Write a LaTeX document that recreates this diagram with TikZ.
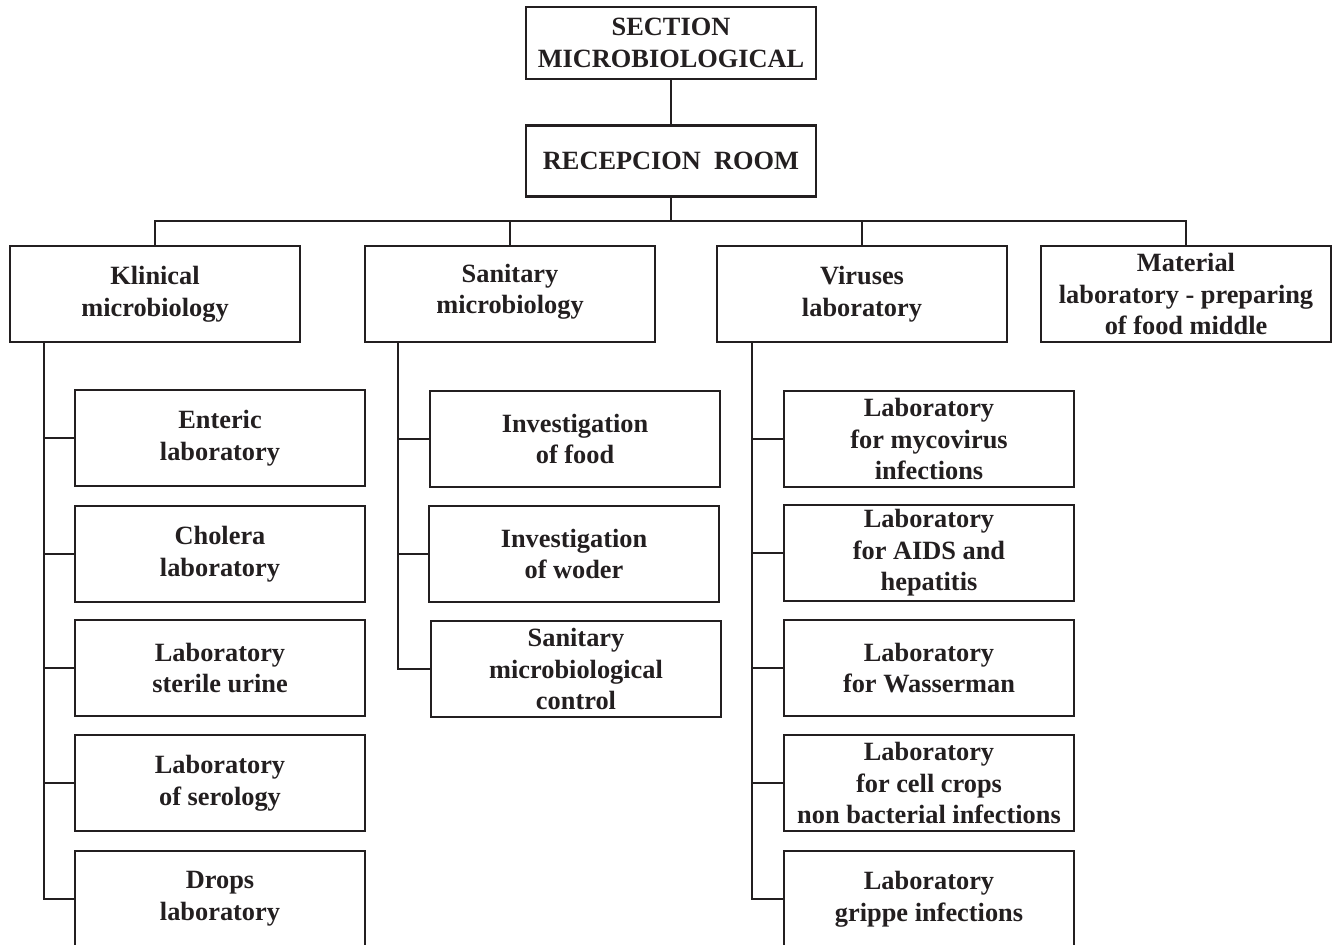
\documentclass[tikz,border=0pt]{standalone}
\usepackage{fontspec}
\setmainfont{Liberation Serif}
\usetikzlibrary{positioning}
\definecolor{ink}{RGB}{35,31,32}

\tikzset{
    unit/.style={draw=ink, line width=1.2pt, minimum width=290*0.02cm, minimum height=96*0.02cm,
        inner sep=2pt, align=center, text=ink, font=\fontsize{15}{18}\selectfont\bfseries},
    link/.style={draw=ink, line width=0.6pt}
}

\begin{document}
\begin{tikzpicture}[x=0.02cm,y=-0.02cm]
    % Frame of the page (the lowest boxes run off it)
    \useasboundingbox (0,0) rectangle (1337,945);
    \clip (0,0) rectangle (1337,945);

    % Head of the section:
    \node [unit, minimum height=72*0.02cm] (section) at (671,43) {SECTION\\MICROBIOLOGICAL};
    \node [unit, minimum height=71*0.02cm] (recep) at (671,161) {RECEPCION\ \ ROOM};

    % Departments:
    \node [unit] (klinical) at (155,294) {Klinical\\microbiology};
    \node [unit, text depth=6pt] (sanitary) at (510,294) {Sanitary\\microbiology};
    \node [unit] (viruses)  at (862,294) {Viruses\\laboratory};
    \node [unit] (material) at (1186,294) {Material\\laboratory - preparing\\of food middle};

    % Laboratories of clinical microbiology:
    \node [unit] (enteric)  at (220,438) {Enteric\\laboratory};
    \node [unit] (cholera)  at (220,554) {Cholera\\laboratory};
    \node [unit] (urine)    at (220,668) {Laboratory\\sterile urine};
    \node [unit] (serology) at (220,783) {Laboratory\\of serology};
    \node [unit] (drops)    at (220,899) {Drops\\laboratory};

    % Laboratories of sanitary microbiology:
    \node [unit] (food)    at (575,439) {Investigation\\of food};
    \node [unit] (woder)   at (574,554) {Investigation\\of woder};
    \node [unit] (control) at (576,669) {Sanitary\\microbiological\\control};

    % Laboratories of virology:
    \node [unit] (mycovirus) at (929,439) {Laboratory\\for mycovirus\\infections};
    \node [unit] (aids)      at (929,553) {Laboratory\\for AIDS and\\hepatitis};
    \node [unit] (wasserman) at (929,668) {Laboratory\\for Wasserman};
    \node [unit] (cellcrops) at (929,783) {Laboratory\\for cell crops\\non bacterial infections};
    \node [unit] (grippe)    at (929,899) {Laboratory\\grippe infections};

    % Connectors:
    \coordinate (bus) at (671,221);
    \draw [link] (section) -- (recep);
    \draw [link] (recep) -- (bus);
    \foreach \n in {klinical,sanitary,viruses,material}
        \draw [link] (\n.north) -- (\n.north |- bus) -- (bus);

    % Side spines to the laboratories:
    \coordinate (kspine) at (44,342);
    \coordinate (sspine) at (398,342);
    \coordinate (vspine) at (752,342);
    \foreach \c in {enteric,cholera,urine,serology,drops}
        \draw [link] (kspine) |- (\c.west);
    \foreach \c in {food,woder,control}
        \draw [link] (sspine) |- (\c.west);
    \foreach \c in {mycovirus,aids,wasserman,cellcrops,grippe}
        \draw [link] (vspine) |- (\c.west);
\end{tikzpicture}
\end{document}
